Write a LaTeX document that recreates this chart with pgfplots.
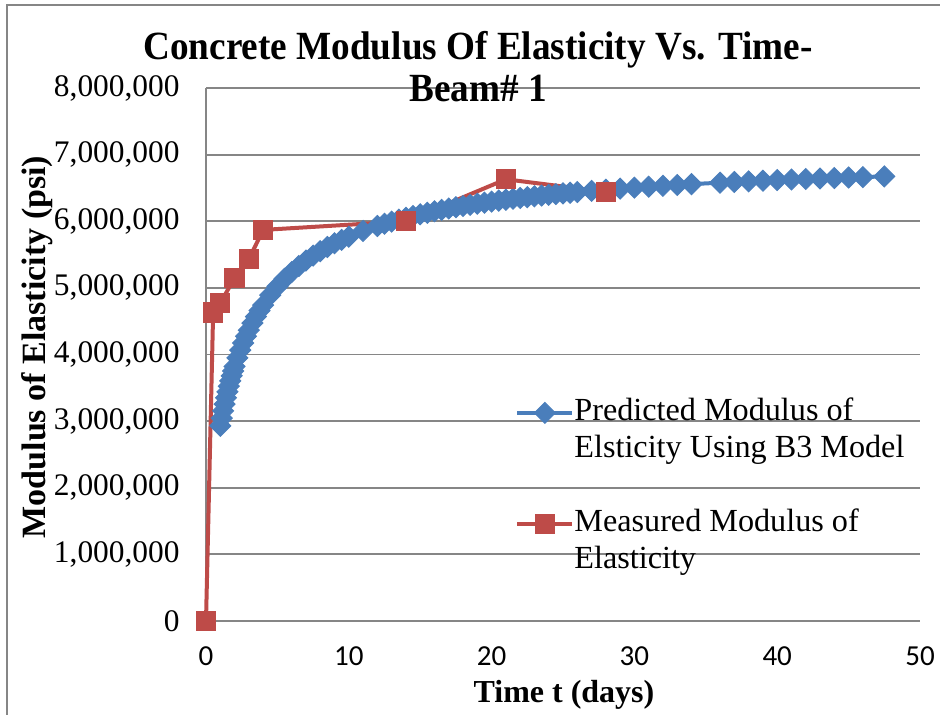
\documentclass[border=0pt]{standalone}
\usepackage{fontspec}
\setmainfont{Liberation Serif}
\newfontfamily\carlito{Carlito}
\usepackage{graphicx}
\usepackage{pgfplots}
\pgfplotsset{compat=1.18}
\definecolor{gridgray}{RGB}{134,134,134}
\definecolor{bblue}{RGB}{74,126,187}
\definecolor{rred}{RGB}{190,75,72}
\begin{document}
\begin{tikzpicture}
\useasboundingbox (0,0) rectangle (470pt,357.5pt);
\begin{scope}
\clip (0,0) rectangle (470pt,357.5pt);
\draw[gridgray, line width=1pt] (3.5pt,-5pt) -- (3.5pt,355pt) -- (480pt,355pt);
\end{scope}
\begin{axis}[
  at={(103pt,47pt)}, anchor=south west,
  scale only axis, width=357pt, height=266.5pt,
  xmin=0, xmax=50, ymin=0, ymax=8000000,
  xtick={0,10,...,50}, ytick={0,1000000,...,8000000},
  axis lines*=left,
  axis line style={-},
  x axis line style={draw=none},
  y axis line style={draw=gridgray, line width=0.9pt},
  ymajorgrids, grid style={gridgray, line width=0.9pt},
  major tick length=0pt,
  scaled y ticks=false,
  clip=false,
  /pgf/number format/.cd, fixed, precision=0, 1000 sep={,}, assume math mode=true, /pgfplots/.cd,
  yticklabel style={font=\fontsize{15.7}{15.7}\selectfont, anchor=east, inner sep=0pt, xshift=-13pt},
  xticklabel style={font=\carlito\fontsize{14.5}{14.5}\selectfont, anchor=north, inner sep=0pt, yshift=-12.5pt},
  legend style={draw=none, fill=none, at={(0.4328,0.4259)}, anchor=north west,
    inner sep=0pt, row sep=0pt, column sep=0pt,
    font=\fontsize{16.1}{16.1}\selectfont, cells={anchor=west},
    nodes={inner sep=0pt, text height=13pt, text depth=5.5pt}},
  legend image code/.code={\draw[mark repeat=2,mark phase=2,#1] plot coordinates {(0pt,0pt) (13.75pt,0pt) (27.5pt,0pt)};},
]
\addplot[color=bblue, line width=2pt, mark=square*, mark size=3.7pt,
  mark options={solid, rotate=45, fill=bblue, draw=bblue, line width=0.5pt}] coordinates {
(1.0,2929000) (1.1,3045000) (1.2,3154000) (1.3,3255000) (1.4,3350000)
(1.5,3440000) (1.6,3524000) (1.7,3604000) (1.8,3680000) (1.9,3752000)
(2.0,3821000) (2.2,3949000) (2.4,4066000) (2.6,4173000) (2.8,4273000)
(3.0,4365000) (3.25,4472000) (3.5,4569000) (3.75,4659000) (4.0,4742000)
(4.5,4891000) (5.0,5021000) (5.5,5136000) (6.0,5237000) (6.5,5328000)
(7.0,5410000) (7.5,5484000) (8.0,5551000) (8.5,5613000) (9.0,5669000)
(9.5,5721000) (10,5769000) (11,5855000) (12,5929000) (12.5,5963000)
(13,5995000) (13.5,6024000) (14,6052000) (14.5,6079000) (15,6104000)
(15.5,6127000) (16,6150000) (16.5,6171000) (17,6191000) (17.5,6211000)
(18,6229000) (18.5,6246000) (19,6263000) (19.5,6279000) (20,6295000)
(20.5,6309000) (21,6323000) (21.5,6337000) (22,6350000) (22.5,6362000)
(23,6374000) (23.5,6386000) (24,6397000) (24.5,6408000) (25,6418000)
(25.5,6428000) (26,6438000) (27,6456000) (28,6473000) (29,6489000)
(30,6504000) (31,6519000) (32,6532000) (33,6545000) (34,6557000)
(36,6579000) (37,6590000) (38,6599000) (39,6609000) (40,6618000)
(41,6626000) (42,6634000) (43,6642000) (44,6649000) (45,6657000)
(46,6663000) (47.5,6673000)
};
\addlegendentry{Predicted Modulus of}
\addlegendimage{empty legend}
\addlegendentry{Elsticity Using B3 Model}
\addlegendimage{empty legend}
\addlegendentry{\mbox{}}
\addplot[color=rred, line width=2pt, mark=square*, mark size=4.8pt,
  mark options={solid, fill=rred, draw=rred, line width=0.5pt}] coordinates {
(0,0) (0.5,4630000) (1,4770000) (2,5150000) (3,5430000) (4,5870000)
(14,6000000) (21,6630000) (28,6440000)
};
\addlegendentry{Measured Modulus of}
\addlegendimage{empty legend}
\addlegendentry{Elasticity}
\end{axis}
\node[anchor=base, font=\bfseries\fontsize{20}{20}\selectfont] at (239pt,327.5pt) {\scalebox{0.93}[1]{Concrete Modulus Of Elasticity Vs. Time-}};
\node[anchor=base, font=\bfseries\fontsize{20}{20}\selectfont] at (239pt,306.5pt) {\scalebox{0.93}[1]{Beam\# 1}};
\node[anchor=base, font=\bfseries\fontsize{16}{16}\selectfont] at (282pt,6pt) {Time t (days)};
\node[rotate=90, anchor=base, font=\bfseries\fontsize{17}{17}\selectfont] at (22.5pt,184pt) {Modulus of Elasticity (psi)};
\end{tikzpicture}
\end{document}
